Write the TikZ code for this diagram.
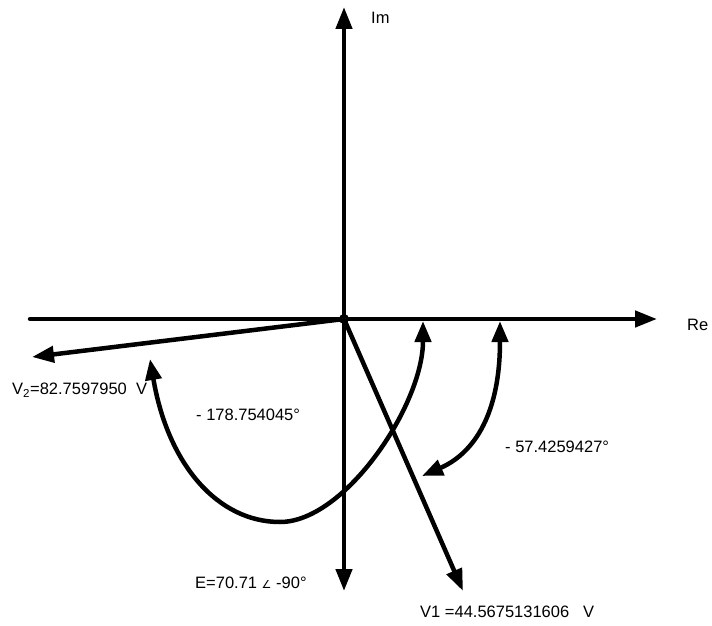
\documentclass[tikz,border=0pt]{standalone}
\usepackage{fontspec}
\setmainfont{Liberation Sans}
\newfontfamily\anglefont{DejaVu Sans}
\usetikzlibrary{arrows.meta,positioning}
\tikzset{
  axis/.style = {line width=4.5pt, line cap=round, -{Triangle[length=22pt,width=16pt]}},
  phasor/.style = {line width=4.5pt, -{Triangle[length=22pt,width=16pt]}},
  anglearc/.style = {line width=4.5pt, {Triangle[length=21pt,width=16pt]}-{Triangle[length=21pt,width=16pt]}},
  lbl/.style = {font=\fontsize{16.5}{19}\selectfont, inner sep=0pt, anchor=west}
}

\begin{document}
\begin{tikzpicture}[x=1pt,y=-1pt]
            \useasboundingbox (0,0) rectangle (712,626);
            \coordinate (O) at (344,319);
            \coordinate (re0) at (30,319);
            \coordinate (re1) at (657,319);
            \coordinate (im1) at (344,7);
            \coordinate (e) at (344,591);
            \coordinate (v1) at (463,591);
            \coordinate (v2) at (32,357);
            \coordinate (a1) at (423,321);
            \coordinate (a1m) at (280,522);
            \coordinate (a1b) at (150,359);
            \coordinate (a2) at (500,321);
            \coordinate (a2b) at (422,476);
            \draw[axis] (re0) -- (re1);
            \draw[axis] (O) -- (im1);
            \draw[phasor] (O) -- (e);
            \draw[phasor] (O) -- (v1);
            \draw[phasor] (O) -- (v2);
            \fill (O) circle (5);
            \draw[anglearc] (a1) .. controls (423,405) and (345,522) .. (a1m)
                .. controls (218,522) and (168,465) .. (a1b);
            \draw[anglearc] (a2) .. controls (500,420) and (470,455) .. (a2b);
            \node[lbl] (im) at (371,18) {Im};
            \node[lbl] (re) at (687,325) {Re};
            \node[lbl] (v2l) at (12,390) {V\textsubscript{2}=82.7597950\ \ V};
            \node[lbl] (ang2) at (196,415) {- 178.754045°};
            \node[lbl] (ang1) at (505,447) {- 57.4259427°};
            \node[lbl] (el) at (195,583) {E=70.71 {\anglefont\fontsize{11}{12}\selectfont ∠} -90°};
            \node[lbl] (v1l) at (420,612) {V1 =44.5675131606\ \ \ V};
        \end{tikzpicture}
\end{document}
